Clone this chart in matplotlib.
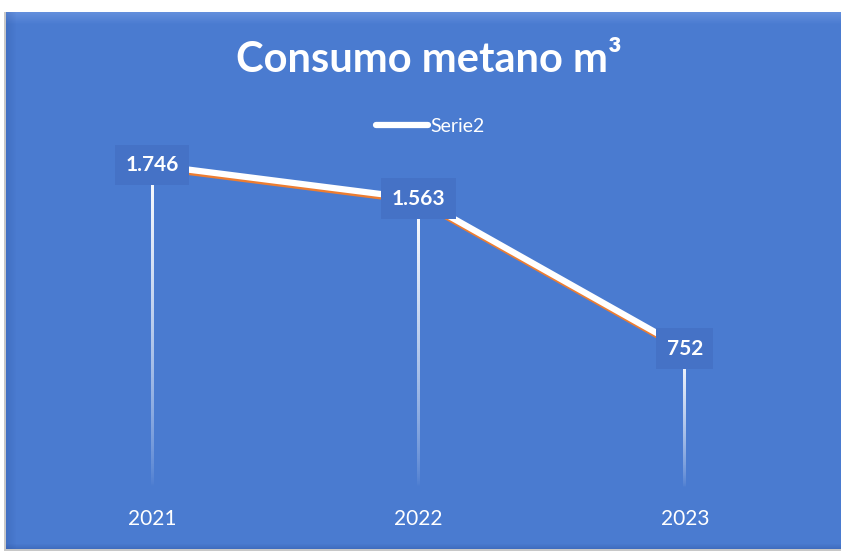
import numpy as np
import matplotlib
matplotlib.use("Agg")
from matplotlib import pyplot as plt
from matplotlib import patheffects as pe
from matplotlib.patches import Rectangle

plt.rcParams["font.family"] = ["Lato", "DejaVu Sans"]

years = ["2021", "2022", "2023"]
consumo = [1746, 1563, 752]
labels = ["1.746", "1.563", "752"]
series_name = "Serie2"
title = "Consumo metano m\u00b3"

BLUE = "#4a7bd0"
BOX = "#4572c6"
ORANGE = "#ed7d31"

W, H = 841, 552
fig = plt.figure(figsize=(W / 100, H / 100), dpi=100)
fig.patch.set_facecolor("white")


def band(x0, y0, w, h, color, alpha=1.0):
    fig.patches.append(Rectangle((x0 / W, y0 / H), w / W, h / H,
                                 transform=fig.transFigure, facecolor=color,
                                 alpha=alpha, edgecolor="none", zorder=-5))


# panel with a light bevel
band(4, 1, W - 4, H - 13, "#c8c8c8")
band(6, 3, W - 6, H - 15, BLUE)
for i in range(12):
    band(6, H - 13 - i, W - 6, 1, "#8fb4f5", 0.35 * (1 - i / 12))
for i in range(10):
    band(6 + i, 3, 1, H - 15, "#2a4f9a", 0.25 * (1 - i / 10))
for i in range(5):
    band(6, 3 + i, W - 6, 1, "#2a4f9a", 0.3 * (1 - i / 5))

# axes: x from 19 to 818 px, y=0 at 488 px, 2000 at 118 px
ax_w = 818 - 19
ax = fig.add_axes([19 / W, (H - 488) / H, ax_w / W, 370 / H])
ax.set_facecolor("none")
x = np.arange(len(years))

# drop lines fading to the bottom (gradient image, ~3 px wide)
half = 1.5 * 3.0 / ax_w
grad = np.ones((100, 1, 4))
grad[:, 0, 3] = np.linspace(1.0, 0.0, 100) ** 0.7
for xi, yi in zip(x, consumo):
    ax.imshow(grad, extent=(xi - half, xi + half, 0, yi), origin="upper",
              aspect="auto", interpolation="bilinear", zorder=2)

ax.set_xlim(-0.5, 2.5)
ax.set_ylim(0, 2000)
for s in ax.spines.values():
    s.set_visible(False)
ax.set_yticks([])
ax.set_xticks(x)
ax.set_xticklabels(years, color="white", fontsize=15)
ax.tick_params(axis="x", length=0, pad=15)

line, = ax.plot(x, consumo, color="white", lw=4.5, solid_capstyle="round", zorder=3,
                label=series_name,
                path_effects=[pe.Stroke(offset=(0.5, -2), linewidth=4, foreground=ORANGE),
                              pe.Normal()])

for xi, yi, lab in zip(x, consumo, labels):
    ax.text(xi, yi, lab, ha="center", va="center", color="white", fontsize=15,
            fontweight="bold", zorder=5,
            bbox=dict(boxstyle="square,pad=0.5", facecolor=BOX, edgecolor="none"))

fig.text(429 / W, 1 - 60 / H, title, ha="center", va="center", color="white",
         fontsize=30, fontweight="bold")

leg = fig.legend(handles=[line], loc="center", bbox_to_anchor=(430 / W, 1 - 126 / H),
                 frameon=False, fontsize=14, labelcolor="white", handlelength=2.7,
                 handletextpad=0.1)
for h in leg.legend_handles:
    h.set_path_effects([])

fig.savefig("out.png", dpi=100, facecolor=fig.get_facecolor())
